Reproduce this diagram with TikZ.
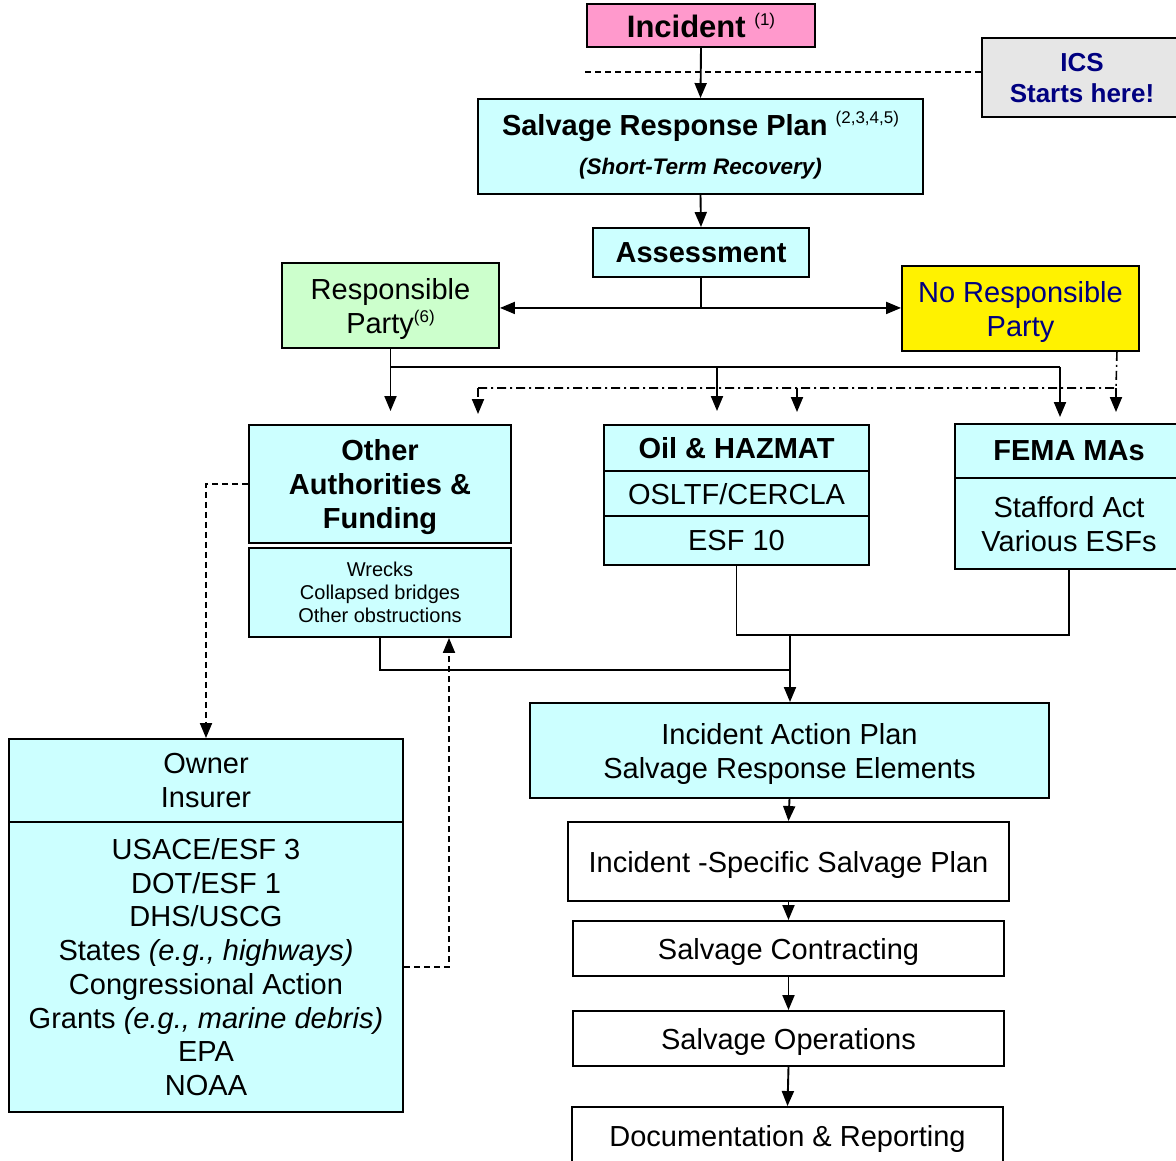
\documentclass[tikz,border=0pt]{standalone}
\usepackage{fontspec}
\setmainfont{Liberation Sans}
\usetikzlibrary{arrows.meta}
\definecolor{cyanbox}{HTML}{CCFFFF}
\definecolor{pinkbox}{HTML}{FF99CC}
\definecolor{greenbox}{HTML}{CCFFCC}
\definecolor{icsgray}{HTML}{E6E6E6}
\definecolor{navyblue}{HTML}{000080}
\newcommand\supx[2]{\raisebox{#1}{\fontsize{17}{17}\selectfont\mdseries\upshape #2}}
\newcommand\fsA{\fontsize{29}{34}\selectfont}
\begin{document}
\begin{tikzpicture}[x=1pt,y=-1pt,
 box/.style={draw, line width=1.9pt, inner sep=0pt, align=center, font=\fsA, fill=cyanbox, text depth=0pt},
 wbox/.style={box, fill=white},
 bbox/.style={box, font=\fsA\bfseries},
 arr/.style={line width=1.9pt, -{Triangle[length=15pt,width=12pt]}},
 ln/.style={line width=1.9pt},
 dsh/.style={line width=1.6pt, dash pattern=on 6pt off 4pt},
 dd/.style={line width=1.6pt, dash pattern=on 9pt off 4pt on 2pt off 4pt}]
\useasboundingbox[fill=white] (0,0) rectangle (1176,1161);

% top
\node[box, fill=pinkbox, minimum width=228pt, minimum height=43pt, font=\fontsize{31}{35}\selectfont\bfseries] (inc) at (701,25.5) {Incident \supx{12pt}{(1)}};
\node[box, fill=icsgray, minimum width=200pt, minimum height=79pt, text=navyblue, font=\fontsize{26}{31}\selectfont\bfseries] (ics) at (1082,77.5) {ICS\\Starts here!};
\node[bbox, minimum width=445pt, minimum height=95pt, text depth=8pt] (srp) at (700.5,146.5) {Salvage Response Plan \supx{12pt}{(2,3,4,5)}\\[5pt]{\fontsize{22.5}{26}\selectfont\bfseries\itshape (Short-Term Recovery)}};
\node[bbox, minimum width=216pt, minimum height=49pt] (ass) at (701,252.5) {Assessment};
\node[box, fill=greenbox, minimum width=217pt, minimum height=85pt] (rp) at (390.5,305.5) {Responsible\\Party\supx{11pt}{(6)}};
\node[box, fill=yellow, text=navyblue, minimum width=237pt, minimum height=85pt] (nrp) at (1020.5,308.5) {No Responsible\\Party};

% middle row
\node[bbox, minimum width=262pt, minimum height=118pt] (oth) at (380,484) {Other\\Authorities \&\\Funding};
\node[box, minimum width=262pt, minimum height=89pt, font=\fontsize{20}{23}\selectfont] (wrk) at (380,592.5) {Wrecks\\Collapsed bridges\\Other obstructions};
\node[bbox, minimum width=265pt, minimum height=46pt] (oil1) at (736.5,448) {Oil \& HAZMAT};
\node[box, minimum width=265pt, minimum height=45pt] (oil2) at (736.5,493.5) {OSLTF/CERCLA};
\node[box, minimum width=265pt, minimum height=49pt] (oil3) at (736.5,540.5) {ESF 10};
\node[bbox, minimum width=228pt, minimum height=54pt] (fem1) at (1069,451) {FEMA MAs};
\node[box, minimum width=228pt, minimum height=91pt] (fem2) at (1069,523.5) {Stafford Act\\Various ESFs};

% lower left
\node[box, minimum width=394pt, minimum height=83pt] (own1) at (206,780.5) {Owner\\Insurer};
\node[box, minimum width=394pt, minimum height=290pt, font=\fontsize{29}{33.7}\selectfont] (own2) at (206,967) {USACE/ESF 3\\DOT/ESF 1\\DHS/USCG\\States \textit{(e.g., highways)}\\Congressional Action\\Grants \textit{(e.g., marine debris)}\\EPA\\NOAA};

% lower right chain
\node[box, minimum width=519pt, minimum height=95pt] (iap) at (789.5,750.5) {Incident Action Plan\\Salvage Response Elements};
\node[wbox, minimum width=441pt, minimum height=79pt] (isp) at (788.5,861.5) {Incident -Specific Salvage Plan};
\node[wbox, minimum width=431pt, minimum height=55pt] (con) at (788.5,948.5) {Salvage Contracting};
\node[wbox, minimum width=431pt, minimum height=55pt] (ops) at (788.5,1038.5) {Salvage Operations};
\node[wbox, minimum width=431pt, minimum height=63pt, text depth=6pt] (doc) at (787.5,1138.5) {Documentation \& Reporting};

% top connectors
\coordinate (dl) at (585,72);
\draw[dsh] (dl) -- (dl -| ics.west);
\draw[arr] (inc.south) -- (srp.north);
\draw[arr] (srp.south) -- (ass.north);
\draw[ln] (ass.south) -- ++(0,30) coordinate (aj);
\draw[arr] (aj) -- (aj -| rp.east);
\draw[arr] (aj) -- (aj -| nrp.west);

% responsible party branches
\coordinate (h1) at (rp.south |- 0,367);
\coordinate (h2) at (717,367);
\coordinate (h3) at (1060,367);
\draw[ln] (h1) -- (h3);
\draw[arr, shorten >=13pt] (rp.south) -- (rp.south |- oth.north);
\draw[arr, shorten >=13pt] (h2) -- (h2 |- oil1.north);
\draw[arr, shorten >=6pt] (h3) -- (h3 |- fem1.north);

% no responsible party branches (dash-dot)
\coordinate (d0) at (478,388);
\coordinate (d1) at (1116,388);
\coordinate (d2) at (797,388);
\draw[dd] ([xshift=-23pt]nrp.south east) -- (d1) -- (d0);
\draw[dd, arr, shorten >=10pt] (d0) -- (d0 |- oth.north);
\draw[dd, arr, shorten >=12pt] (d2) -- (d2 |- oil1.north);
\draw[dd, arr, shorten >=11pt] (d1) -- (d1 |- fem1.north);

% merge into IAP
\coordinate (m1) at (790,635);
\draw[ln] (oil3.south) |- (m1);
\draw[ln] (fem2.south) |- (m1);
\draw[ln] (wrk.south) |- (790,670);
\draw[arr] (m1) -- (m1 |- iap.north);

% dashed owner links
\draw[dsh, arr] (oth.west) -| (own1.north);
\draw[dsh, arr] (own2.east) -| ([xshift=69pt]wrk.south);

% chain
\draw[arr] (iap.south) -- (isp.north);
\draw[arr] (isp.south) -- (con.north);
\draw[arr] (con.south) -- (ops.north);
\draw[arr] (ops.south) -- (doc.north);
\end{tikzpicture}
\end{document}
